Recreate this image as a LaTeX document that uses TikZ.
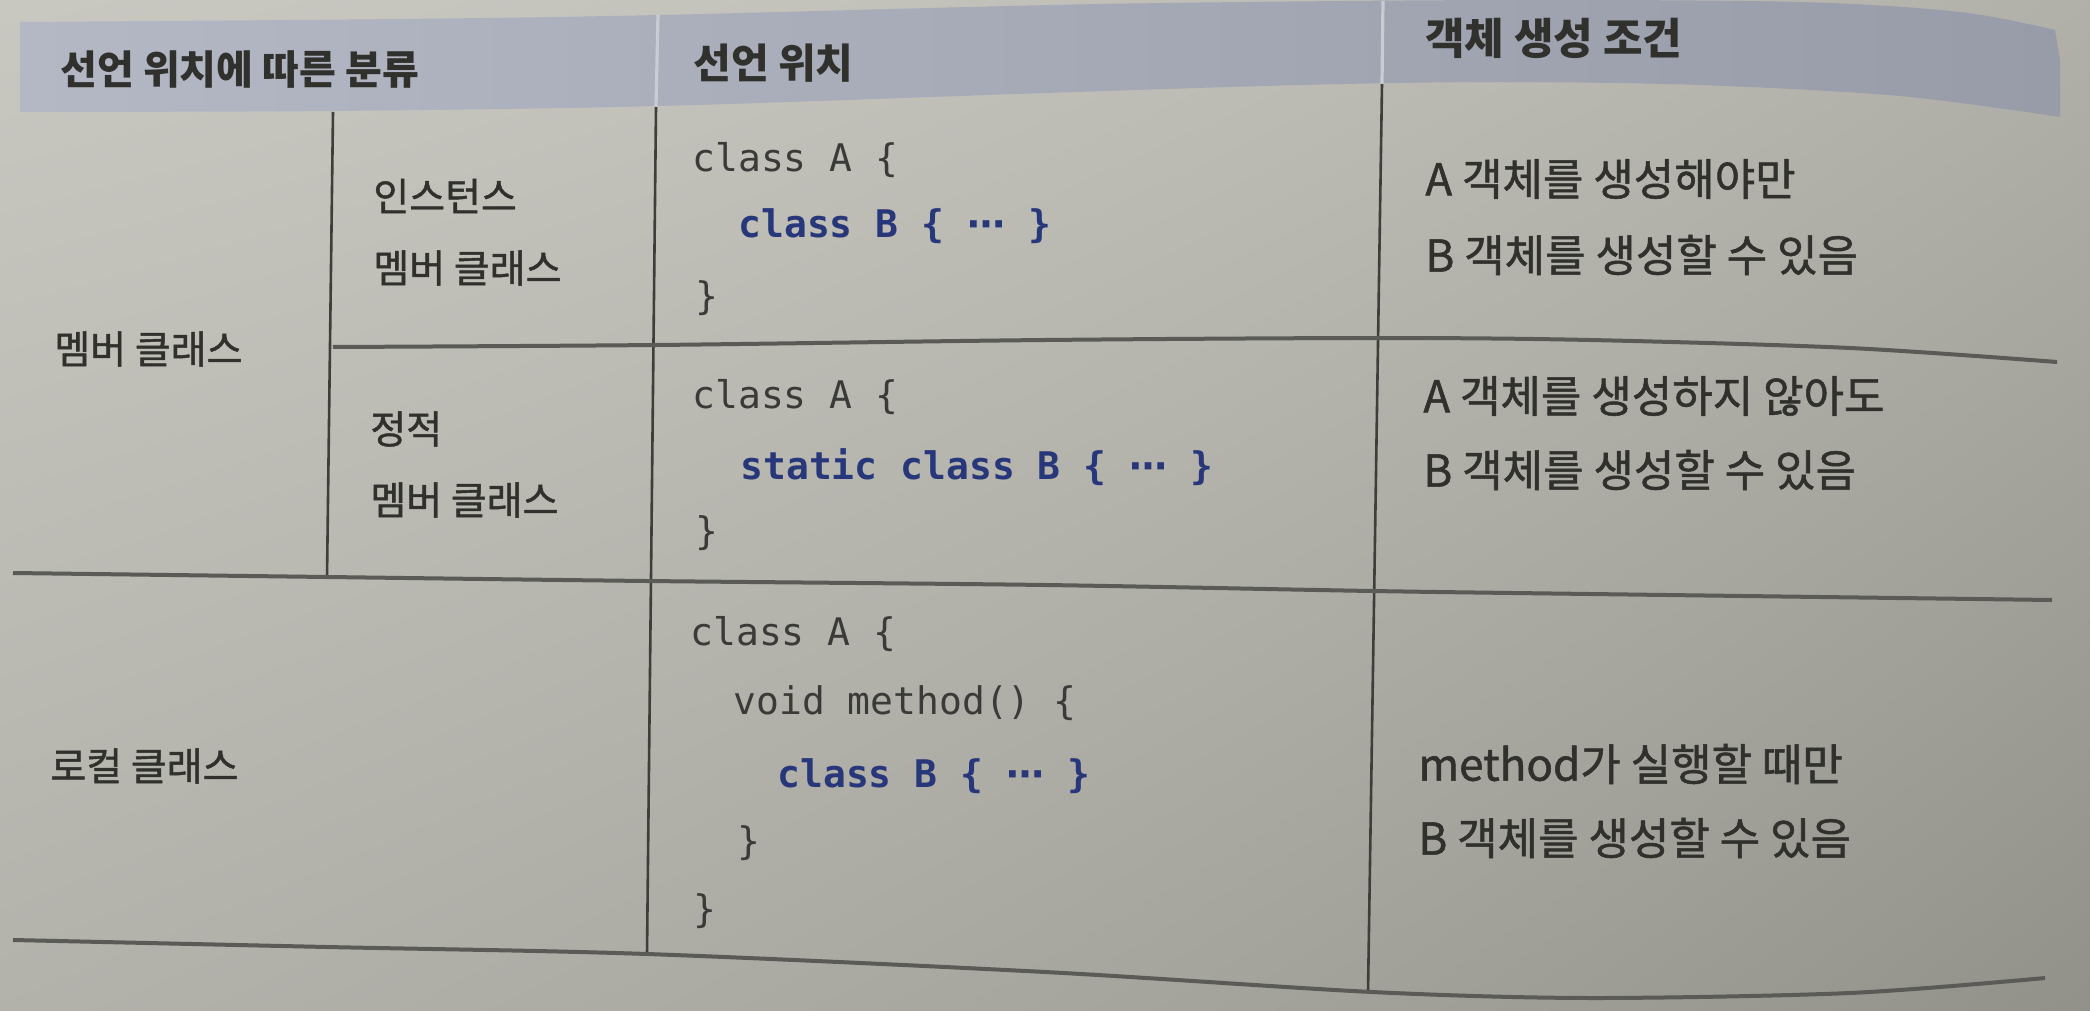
\documentclass[tikz,border=0pt]{standalone}
\usepackage{fontspec}
\newfontfamily\kr{Noto Sans CJK KR}
\newfontfamily\krm[FakeBold=1.2]{Noto Sans CJK KR}
\newfontfamily\mono{DejaVu Sans Mono}
\newfontfamily\symf{DejaVu Sans}
\definecolor{bandL}{HTML}{B4B8C4}
\definecolor{bandR}{HTML}{989CA8}
\definecolor{bandsep}{HTML}{C9CCD3}
\definecolor{txt}{HTML}{30302D}
\definecolor{codegray}{HTML}{3A3A38}
\definecolor{codeblue}{HTML}{28377A}
\definecolor{hgray}{HTML}{5A5A56}
\definecolor{vdark}{HTML}{3E3E3B}
\pgfdeclarefunctionalshading{pagebg}{\pgfpoint{-50bp}{-50bp}}{\pgfpoint{50bp}{50bp}}{}{
 50 exch sub 100 div
 exch 50 add 100 div
 2 copy mul 0.15 mul
 1 index dup dup mul mul 0.18 mul add
 exch pop
 exch 0.133 mul add
 0.83 exch sub
 dup dup 0.003 sub exch 0.03 sub
}
\tikzset{
  hdrtxt/.style={anchor=west, inner sep=0pt, text=txt, font=\kr\bfseries\fontsize{20pt}{24pt}\selectfont},
  lbltxt/.style={anchor=west, inner sep=0pt, text=txt, font=\krm\fontsize{19.5pt}{23pt}\selectfont},
  condtxt/.style={anchor=west, inner sep=0pt, text=txt, font=\krm\fontsize{22pt}{26pt}\selectfont},
  codetxt/.style={anchor=west, inner sep=0pt, text=codegray, font=\mono\fontsize{19pt}{22pt}\selectfont},
  codehl/.style={anchor=west, inner sep=0pt, text=codeblue, font=\mono\bfseries\fontsize{19pt}{22pt}\selectfont},
  hrule/.style={draw=hgray, line width=2pt},
  vrule/.style={draw=vdark, line width=1.3pt},
  bandrule/.style={draw=bandsep, line width=1.6pt},
}
\newcommand{\mydots}{{\symf ⋯}}
\begin{document}
\begin{tikzpicture}[x=0.5pt, y=-0.5pt]
\useasboundingbox (0,0) rectangle (2090,1011);
% page background
\shade[shading=pagebg] (0,0) rectangle (2090,1011);
% header band
\shade[left color=bandL, right color=bandR]
  plot[smooth] coordinates {(20,22) (400,19) (660,15) (1100,4) (1500,0) (1800,2) (1960,12) (2055,30)}
  -- (2060,60) -- (2060,117)
  -- plot[smooth] coordinates {(2060,117) (1900,96) (1700,85) (1500,82) (1300,85) (1045,93) (660,106) (333,111) (20,112)}
  -- cycle;
% header separators
\draw[bandrule] (658,15) -- (656,107);
\draw[bandrule] (1383,1) -- (1382,84);
% vertical rules
\draw[vrule] (333,112) -- (327,578);
\draw[vrule] (656,107) -- (647,954);
\draw[vrule] (1382,84) -- (1368,993);
% horizontal rules
\draw[hrule] plot[smooth] coordinates {(333,347) (656,345) (1045,340) (1381,338) (1590,340) (1850,348) (2057,362)};
\draw[hrule] plot[smooth] coordinates {(13,573) (327,577) (647,581) (1045,585) (1372,591) (1590,594) (2052,600)};
\draw[hrule] plot[smooth] coordinates {(13,940) (327,947) (647,954) (1045,972) (1372,992) (1590,998) (1850,993) (2045,978)};
% header texts
\node[hdrtxt] (h1) at (60,70) {선언 위치에 따른 분류};
\node[hdrtxt, font=\kr\bfseries\fontsize{20.5pt}{24pt}\selectfont] (h2) at (693,63) {선언 위치};
\node[hdrtxt, font=\kr\bfseries\fontsize{21.5pt}{24pt}\selectfont] (h3) at (1425,38) {객체 생성 조건};
% left labels
\node[lbltxt] (l1) at (54,349) {멤버 클래스};
\node[lbltxt] (l2) at (373,196) {인스턴스};
\node[lbltxt] (l3) at (373,268) {멤버 클래스};
\node[lbltxt] (l4) at (370,429) {정적};
\node[lbltxt] (l5) at (370,500) {멤버 클래스};
\node[lbltxt] (l6) at (50,766) {로컬 클래스};
% code
\node[codetxt] (c1) at (692,160) {class A \{};
\node[codehl]  (c2) at (738,226) {class B \{ \mydots\ \}};
\node[codetxt] (c3) at (695,298) {\}};
\node[codetxt] (c4) at (692,397) {class A \{};
\node[codehl]  (c5) at (740,467) {static class B \{ \mydots\ \}};
\node[codetxt] (c6) at (695,533) {\}};
\node[codetxt] (c7) at (690,634) {class A \{};
\node[codetxt] (c8) at (733,703) {void method() \{};
\node[codehl]  (c9) at (777,776) {class B \{ \mydots\ \}};
\node[codetxt] (c10) at (737,843) {\}};
\node[codetxt] (c11) at (693,911) {\}};
% conditions
\node[condtxt] (r1) at (1425,179) {A 객체를 생성해야만};
\node[condtxt] (r2) at (1425,255) {B 객체를 생성할 수 있음};
\node[condtxt] (r3) at (1423,396) {A 객체를 생성하지 않아도};
\node[condtxt] (r4) at (1423,470) {B 객체를 생성할 수 있음};
\node[condtxt] (r5) at (1418,764) {method가 실행할 때만};
\node[condtxt] (r6) at (1418,838) {B 객체를 생성할 수 있음};
\end{tikzpicture}
\end{document}
